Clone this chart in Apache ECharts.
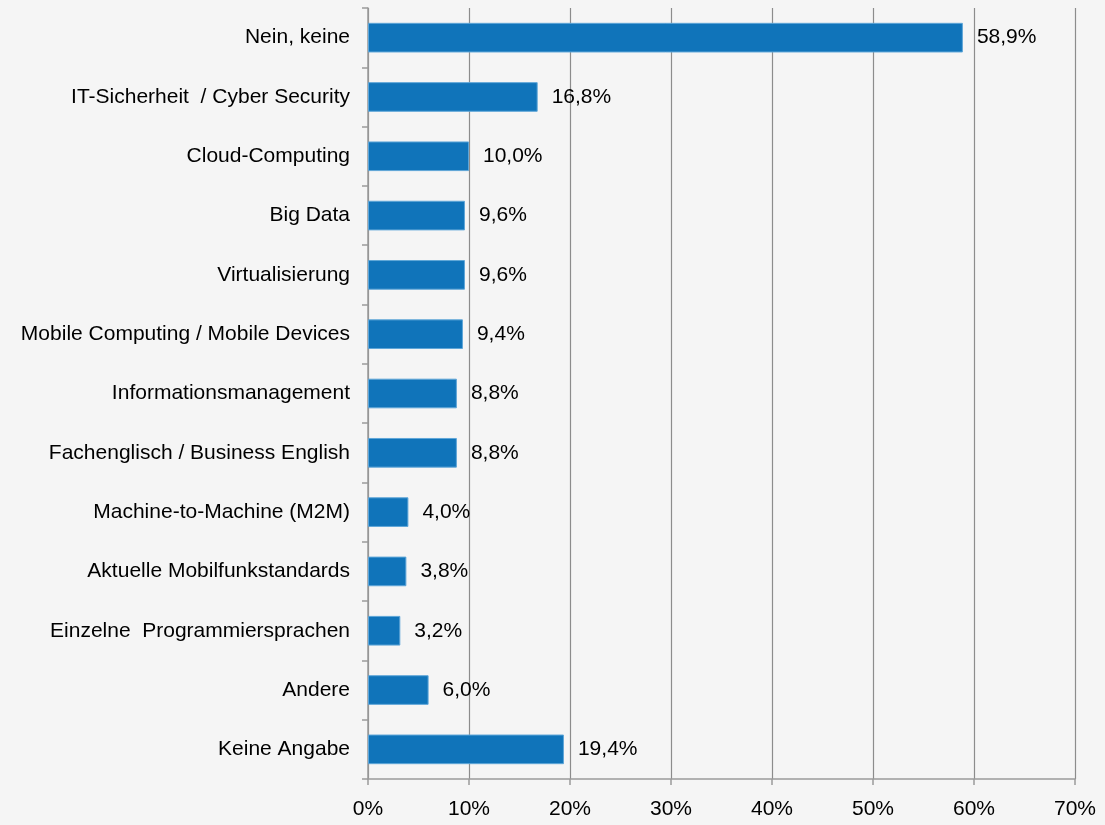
<!DOCTYPE html>
<html>
<head>
<meta charset="utf-8">
<script src="https://cdn.jsdelivr.net/npm/echarts@6/dist/echarts.min.js"></script>
<style>
  html, body { margin: 0; padding: 0; background: #f5f5f5; }
  #main { width: 1105px; height: 825px; }
</style>
</head>
<body>
<div id="main"></div>
<script>
// Kategorien (von oben nach unten)
const categories = [
  "Nein, keine",
  "IT-Sicherheit  / Cyber Security",
  "Cloud-Computing",
  "Big Data",
  "Virtualisierung",
  "Mobile Computing / Mobile Devices",
  "Informationsmanagement",
  "Fachenglisch / Business English",
  "Machine-to-Machine (M2M)",
  "Aktuelle Mobilfunkstandards",
  "Einzelne  Programmiersprachen",
  "Andere",
  "Keine Angabe"
];
// Anteile in Prozent
const values = [58.9, 16.8, 10.0, 9.6, 9.6, 9.4, 8.8, 8.8, 4.0, 3.8, 3.2, 6.0, 19.4];
// Achsenbeschriftung
const xTicks = [0, 10, 20, 30, 40, 50, 60, 70];

const font = '"Liberation Sans Narrow", "Liberation Sans", Arial, sans-serif';

const myChart = echarts.init(document.getElementById("main"));
myChart.setOption({
  backgroundColor: "#f5f5f5",
  animation: false,
  grid: { left: 368, right: 30, top: 8, bottom: 46 },
  xAxis: {
    type: "value",
    min: xTicks[0],
    max: xTicks[xTicks.length - 1],
    interval: 10,
    axisLine: { show: true, lineStyle: { color: "#9a9a9a", width: 1.5 } },
    axisTick: { show: true, length: 6, lineStyle: { color: "#9a9a9a", width: 1.5 } },
    splitLine: { show: true, lineStyle: { color: "#8c8c8c", width: 1.2 } },
    axisLabel: {
      formatter: "{value}%",
      color: "#000",
      fontFamily: font,
      fontSize: 21,
      margin: 20
    }
  },
  yAxis: {
    type: "category",
    inverse: true,
    data: categories,
    axisLine: { show: true, lineStyle: { color: "#9a9a9a", width: 1.5 } },
    axisTick: { show: true, length: 6, lineStyle: { color: "#9a9a9a", width: 1.5 } },
    axisLabel: {
      color: "#000",
      fontFamily: font,
      fontSize: 21,
      margin: 18
    }
  },
  series: [
    {
      type: "bar",
      data: values,
      barWidth: "50%",
      itemStyle: { color: "#1074ba", borderColor: "#5fa6d8", borderWidth: 1 },
      label: {
        show: true,
        position: "right",
        distance: 14,
        color: "#000",
        fontFamily: font,
        fontSize: 21,
        formatter: p => p.value.toFixed(1).replace(".", ",") + "%"
      }
    }
  ]
});
</script>
</body>
</html>
